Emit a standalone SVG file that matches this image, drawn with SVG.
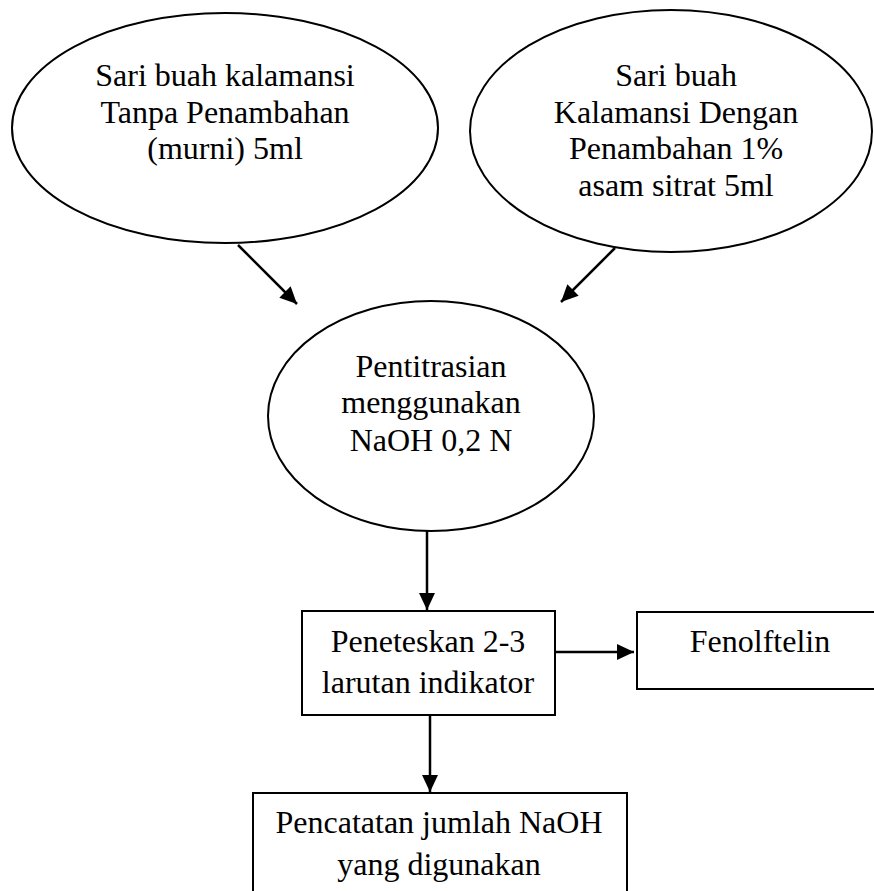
<svg xmlns="http://www.w3.org/2000/svg" width="874" height="891" viewBox="0 0 874 891">
<style>
.shape{fill:#fff;stroke:#000;stroke-width:2}
.t{font-family:'Liberation Serif','Times New Roman',Times,serif;font-size:32px;fill:#000;text-anchor:middle}
.c{stroke:#000;stroke-width:2.5;fill:none}
</style>
<defs>
<marker id="ah" markerUnits="userSpaceOnUse" markerWidth="18" markerHeight="16" refX="17" refY="8" orient="auto">
<path d="M0,0 L17,8 L0,16 z" fill="#000"/>
</marker>
</defs>
<rect width="874" height="891" fill="#fff"/>
<g id="node-murni">
<ellipse class="shape" cx="225" cy="128" rx="213" ry="115"/>
<text class="t" font-family="Liberation Serif" x="225" y="86">Sari buah kalamansi</text>
<text class="t" font-family="Liberation Serif" x="225" y="123">Tanpa Penambahan</text>
<text class="t" font-family="Liberation Serif" x="225" y="159">(murni) 5ml</text>
</g>
<g id="node-sitrat">
<ellipse class="shape" cx="671" cy="131" rx="201" ry="121"/>
<text class="t" x="676" y="86">Sari buah</text>
<text class="t" x="676" y="123">Kalamansi Dengan</text>
<text class="t" x="676" y="159">Penambahan 1%</text>
<text class="t" x="676" y="196">asam sitrat 5ml</text>
</g>
<g id="node-titrasi">
<ellipse class="shape" cx="431" cy="416" rx="163" ry="115"/>
<text class="t" x="431" y="377">Pentitrasian</text>
<text class="t" x="431" y="413">menggunakan</text>
<text class="t" x="431" y="451">NaOH 0,2 N</text>
</g>
<g id="node-peneteskan">
<rect class="shape" x="302" y="611" width="253" height="104"/>
<text class="t" x="428" y="652">Peneteskan 2-3</text>
<text class="t" x="428" y="693">larutan indikator</text>
</g>
<g id="node-fenolftelin">
<rect class="shape" x="637" y="612" width="250" height="77"/>
<text class="t" x="760" y="652">Fenolftelin</text>
</g>
<g id="node-pencatatan">
<rect class="shape" x="253" y="793" width="374" height="110"/>
<text class="t" x="439" y="833">Pencatatan jumlah NaOH</text>
<text class="t" x="439" y="875">yang digunakan</text>
</g>
<g id="connectors">
<line class="c" x1="238" y1="245" x2="297" y2="304" marker-end="url(#ah)"/>
<line class="c" x1="615" y1="248" x2="561" y2="302" marker-end="url(#ah)"/>
<line class="c" x1="427" y1="531" x2="427" y2="610" marker-end="url(#ah)"/>
<line class="c" x1="556" y1="652" x2="634" y2="652" marker-end="url(#ah)"/>
<line class="c" x1="430" y1="715" x2="430" y2="792" marker-end="url(#ah)"/>
</g>
</svg>
